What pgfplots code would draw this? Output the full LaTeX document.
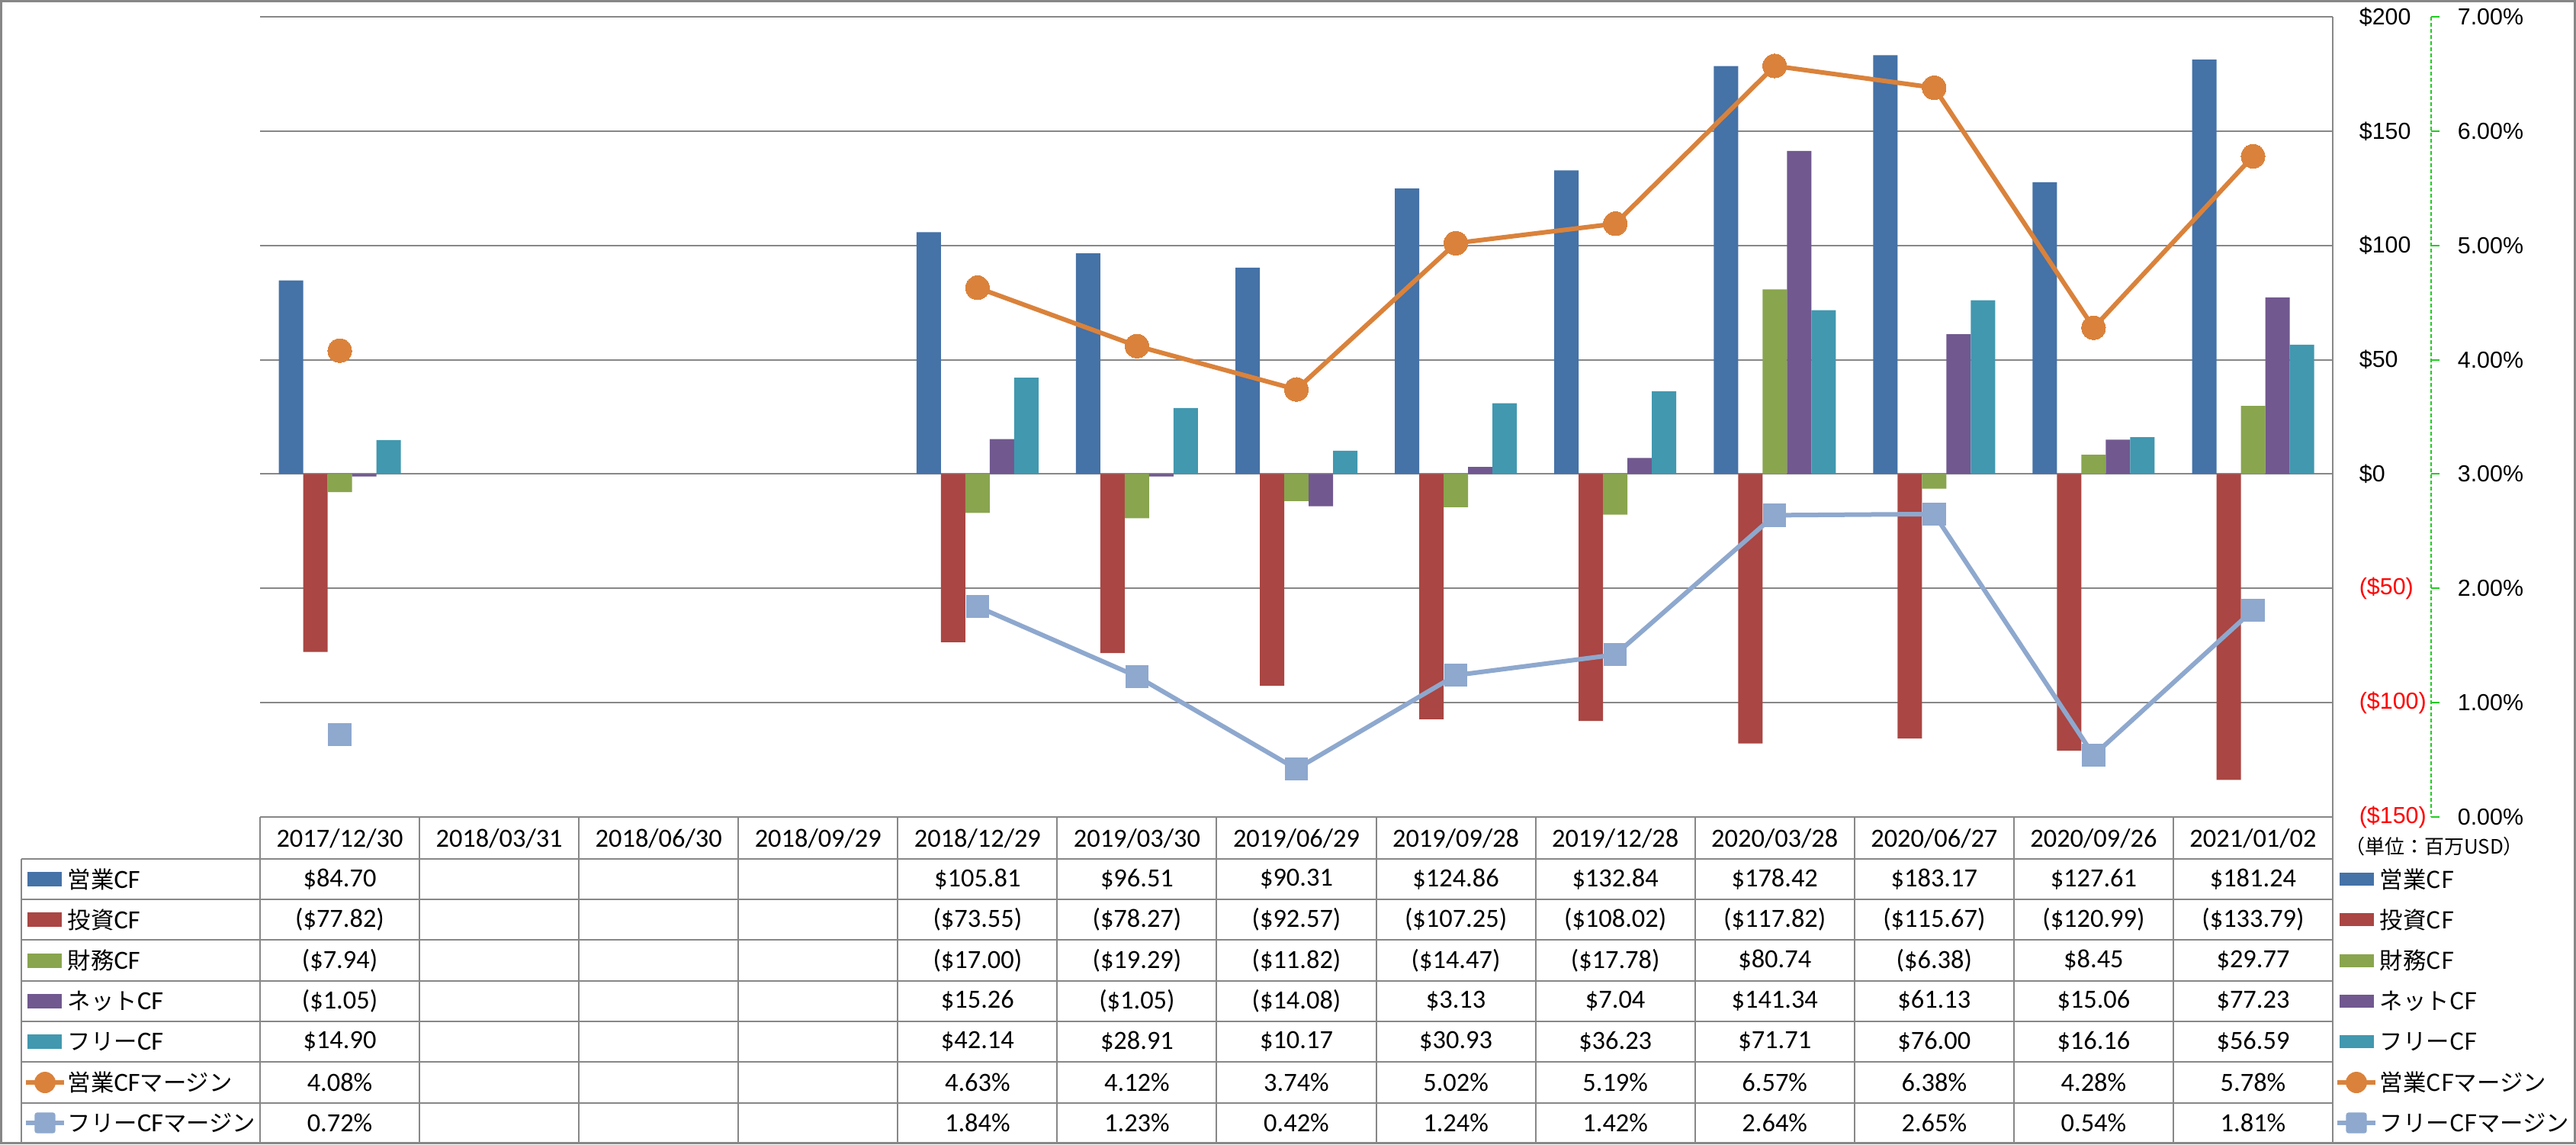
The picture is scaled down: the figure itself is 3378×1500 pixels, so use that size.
\documentclass[border=0pt]{standalone}
\usepackage{pgfplots}
\pgfplotsset{compat=1.18}
\usepackage{fontspec}
\setmainfont{Carlito}
\newfontfamily\jp{Noto Sans CJK JP}
\newfontfamily\ar{Liberation Sans}
\definecolor{cOp}{HTML}{4572A7}
\definecolor{cInv}{HTML}{AA4643}
\definecolor{cFin}{HTML}{89A54E}
\definecolor{cNet}{HTML}{71588F}
\definecolor{cFree}{HTML}{4198AF}
\definecolor{cOpM}{HTML}{DA823B}
\definecolor{cFrM}{HTML}{8EA8CE}
\definecolor{gridc}{HTML}{878787}
\definecolor{axgreen}{HTML}{22CC22}
\newcommand{\tabfont}{\fontsize{8.6pt}{10pt}\selectfont}
\newcommand{\jpf}{\jp\fontsize{7.6pt}{9pt}\selectfont}
\newcommand{\tickf}{\ar\fontsize{7.6pt}{9pt}\selectfont}
\begin{document}
\begin{tikzpicture}[x=0.25pt,y=-0.25pt]
\useasboundingbox (0,0) rectangle (3378,1500);
\fill[white] (0,0) rectangle (3378,1500);
\coordinate (AX) at (341,1071);

\begin{axis}[
  at={(AX)}, anchor=south west,
  scale only axis, width=679.5pt, height=262.25pt,
  xmin=-0.5, xmax=12.5, ymin=-150, ymax=200,
  xtick=\empty,
  ytick={-150,-100,-50,0,50,100,150,200},
  yticklabels={{\color{red}(\$150)},{\color{red}(\$100)},{\color{red}(\$50)},\$0,\$50,\$100,\$150,\$200},
  yticklabel pos=right,
  yticklabel style={anchor=west, inner sep=0pt, xshift=8.5pt, font=\tickf},
  ymajorgrids, grid style={gridc, line width=0.5pt},
  axis line style={draw=none},
  major tick length=0pt,
  ybar, bar width=8pt,
  clip=false,
]
\addplot[fill=cOp, draw=none, bar shift=-16pt] coordinates {(0,84.70) (4,105.81) (5,96.51) (6,90.31) (7,124.86) (8,132.84) (9,178.42) (10,183.17) (11,127.61) (12,181.24)};
\addplot[fill=cInv, draw=none, bar shift=-8pt] coordinates {(0,-77.82) (4,-73.55) (5,-78.27) (6,-92.57) (7,-107.25) (8,-108.02) (9,-117.82) (10,-115.67) (11,-120.99) (12,-133.79)};
\addplot[fill=cFin, draw=none, bar shift=0pt] coordinates {(0,-7.94) (4,-17.00) (5,-19.29) (6,-11.82) (7,-14.47) (8,-17.78) (9,80.74) (10,-6.38) (11,8.45) (12,29.77)};
\addplot[fill=cNet, draw=none, bar shift=8pt] coordinates {(0,-1.05) (4,15.26) (5,-1.05) (6,-14.08) (7,3.13) (8,7.04) (9,141.34) (10,61.13) (11,15.06) (12,77.23)};
\addplot[fill=cFree, draw=none, bar shift=16pt] coordinates {(0,14.90) (4,42.14) (5,28.91) (6,10.17) (7,30.93) (8,36.23) (9,71.71) (10,76.00) (11,16.16) (12,56.59)};
\end{axis}

\begin{axis}[
  at={(AX)}, anchor=south west,
  scale only axis, width=679.5pt, height=262.25pt,
  xmin=-0.5, xmax=12.5, ymin=0, ymax=7,
  xtick=\empty,
  ytick={0,1,2,3,4,5,6,7},
  yticklabels={0.00\%,1.00\%,2.00\%,3.00\%,4.00\%,5.00\%,6.00\%,7.00\%},
  yticklabel pos=right,
  yticklabel style={anchor=west, inner sep=0pt, xshift=40.75pt, font=\tickf},
  axis line style={draw=none},
  major tick length=0pt,
  unbounded coords=jump,
  clip=false,
]
\addplot[cOpM, line width=1.5pt, mark=*, mark size=3.9pt, mark options={fill=cOpM, draw=cOpM, line width=0pt}] coordinates {(0,4.08) (1,nan) (2,nan) (3,nan) (4,4.63) (5,4.12) (6,3.74) (7,5.02) (8,5.19) (9,6.57) (10,6.38) (11,4.28) (12,5.78)};
\addplot[cFrM, line width=1.5pt, mark=square*, mark size=3.3pt, mark options={fill=cFrM, draw=cFrM, line width=1pt, rounded corners=0.8pt}] coordinates {(0,0.72) (1,nan) (2,nan) (3,nan) (4,1.84) (5,1.23) (6,0.42) (7,1.24) (8,1.42) (9,2.64) (10,2.65) (11,0.54) (12,1.81)};
\end{axis}

% secondary axis line (green dashed) with ticks
\draw[axgreen, line width=0.5pt, dash pattern=on 1.2pt off 0.8pt] (3188,22) -- (3188,1071);
\foreach \k in {0,...,7} \draw[axgreen, line width=0.5pt] (3188,{1071-149.857*\k}) -- (3199,{1071-149.857*\k});

% table grid
\foreach \y in {1126,1179,1232,1286,1339,1392,1446} \draw[gridc, line width=0.5pt] (28,\y) -- (3059,\y);
\draw[gridc, line width=0.5pt] (28,1126) -- (28,1500);
\foreach \k in {0,...,12} \draw[gridc, line width=0.5pt] ({341+209.0769*\k},1071) -- ({341+209.0769*\k},1500);
\draw[gridc, line width=0.5pt] (3059,22) -- (3059,1500);

% header dates
\foreach \d [count=\i from 0] in {2017/12/30,2018/03/31,2018/06/30,2018/09/29,2018/12/29,2019/03/30,2019/06/29,2019/09/28,2019/12/28,2020/03/28,2020/06/27,2020/09/26,2021/01/02}
  \node[font=\tabfont, inner sep=0pt] at ({341+209.0769*(\i+0.5)},1099) {\d};

% table values
\foreach \t [count=\i from 0] in {\$84.70,{},{},{},\$105.81,\$96.51,\$90.31,\$124.86,\$132.84,\$178.42,\$183.17,\$127.61,\$181.24}
  \node[font=\tabfont, inner sep=0pt] at ({341+209.0769*(\i+0.5)},1152.5) {\t};
\foreach \t [count=\i from 0] in {(\$77.82),{},{},{},(\$73.55),(\$78.27),(\$92.57),(\$107.25),(\$108.02),(\$117.82),(\$115.67),(\$120.99),(\$133.79)}
  \node[font=\tabfont, inner sep=0pt] at ({341+209.0769*(\i+0.5)},1205.5) {\t};
\foreach \t [count=\i from 0] in {(\$7.94),{},{},{},(\$17.00),(\$19.29),(\$11.82),(\$14.47),(\$17.78),\$80.74,(\$6.38),\$8.45,\$29.77}
  \node[font=\tabfont, inner sep=0pt] at ({341+209.0769*(\i+0.5)},1259) {\t};
\foreach \t [count=\i from 0] in {(\$1.05),{},{},{},\$15.26,(\$1.05),(\$14.08),\$3.13,\$7.04,\$141.34,\$61.13,\$15.06,\$77.23}
  \node[font=\tabfont, inner sep=0pt] at ({341+209.0769*(\i+0.5)},1312) {\t};
\foreach \t [count=\i from 0] in {\$14.90,{},{},{},\$42.14,\$28.91,\$10.17,\$30.93,\$36.23,\$71.71,\$76.00,\$16.16,\$56.59}
  \node[font=\tabfont, inner sep=0pt] at ({341+209.0769*(\i+0.5)},1365.5) {\t};
\foreach \t [count=\i from 0] in {4.08\%,{},{},{},4.63\%,4.12\%,3.74\%,5.02\%,5.19\%,6.57\%,6.38\%,4.28\%,5.78\%}
  \node[font=\tabfont, inner sep=0pt] at ({341+209.0769*(\i+0.5)},1419) {\t};
\foreach \t [count=\i from 0] in {0.72\%,{},{},{},1.84\%,1.23\%,0.42\%,1.24\%,1.42\%,2.64\%,2.65\%,0.54\%,1.81\%}
  \node[font=\tabfont, inner sep=0pt] at ({341+209.0769*(\i+0.5)},1472) {\t};

% left legend keys + labels
\foreach \c/\y/\lab in {cOp/1152.5/営業,cInv/1205.5/投資,cFin/1259/財務,cNet/1312/ネット,cFree/1365.5/フリー}{
  \fill[\c] (36,\y-9.5) rectangle (81,\y+9.5);
  \node[anchor=west, inner sep=0pt, font=\tabfont] at (88,\y) {{\jpf\lab}CF};
}
\draw[cOpM, line width=1.5pt] (34,1419) -- (84,1419);
\node[circle, fill=cOpM, minimum size=7pt, inner sep=0pt] at (59,1419) {};
\node[anchor=west, inner sep=0pt, font=\tabfont] at (88,1419) {{\jpf 営業}CF{\jpf マージン}};
\draw[cFrM, line width=1.5pt] (34,1472) -- (84,1472);
\node[fill=cFrM, minimum size=6.8pt, inner sep=0pt, rounded corners=0.8pt] at (59,1472) {};
\node[anchor=west, inner sep=0pt, font=\tabfont] at (88,1472) {{\jpf フリー}CF{\jpf マージン}};

% right legend
\node[font=\jp\fontsize{6.5pt}{8pt}\selectfont, inner sep=0pt] at (3192,1110) {（単位：百万USD）};
\foreach \c/\y/\lab in {cOp/1152.5/営業CF,cInv/1205.5/投資CF,cFin/1259/財務CF,cNet/1312/ネットCF,cFree/1365.5/フリーCF}{
  \fill[\c] (3068,\y-8.5) rectangle (3113,\y+8.5);
  \node[anchor=west, inner sep=0pt, font=\jpf] at (3120,\y) {\lab};
}
\draw[cOpM, line width=1.5pt] (3065,1419) -- (3115,1419);
\node[circle, fill=cOpM, minimum size=7pt, inner sep=0pt] at (3090,1419) {};
\node[anchor=west, inner sep=0pt, font=\jpf] at (3120,1419) {営業CFマージン};
\draw[cFrM, line width=1.5pt] (3065,1472) -- (3115,1472);
\node[fill=cFrM, minimum size=6.8pt, inner sep=0pt, rounded corners=0.8pt] at (3090,1472) {};
\node[anchor=west, inner sep=0pt, font=\jpf] at (3120,1472) {フリーCFマージン};

% outer frame
\draw[gridc, line width=0.75pt] (1.5,1.5) rectangle (3376.5,1498.5);
\end{tikzpicture}
\end{document}
